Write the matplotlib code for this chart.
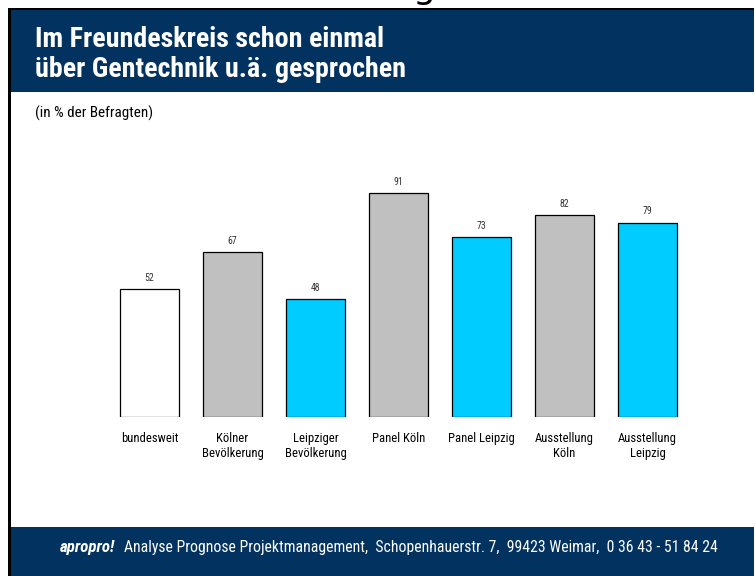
import matplotlib
matplotlib.use("Agg")
import matplotlib.pyplot as plt
from matplotlib.patches import Rectangle

categories = ["bundesweit", "Kölner\nBevölkerung", "Leipziger\nBevölkerung", "Panel Köln",
              "Panel Leipzig", "Ausstellung\nKöln", "Ausstellung\nLeipzig"]
values = [52, 67, 48, 91, 73, 82, 79]
bar_colors = ["#FFFFFF", "#C0C0C0", "#00CCFF", "#C0C0C0", "#00CCFF", "#C0C0C0", "#00CCFF"]

title_lines = ["Im Freundeskreis schon einmal", "über Gentechnik u.ä. gesprochen"]
subtitle = "(in % der Befragten)"
footer_brand = "apropro!"
footer_text = "Analyse Prognose Projektmanagement,  Schopenhauerstr. 7,  99423 Weimar,  0 36 43 - 51 84 24"

NAVY = "#02325F"
TITLE_FONT = ["Roboto Condensed", "DejaVu Sans"]
BODY_FONT = ["Roboto Condensed", "DejaVu Sans"]

W, H = 755, 576
fig = plt.figure(figsize=(W / 100, H / 100), dpi=100)
fig.patch.set_facecolor("white")
renderer = fig.canvas.get_renderer()


def fx(px):
    return px / W


def fy(py):
    return 1 - py / H


def fit(t, target_px):
    w = t.get_window_extent(renderer).width
    t.set_fontsize(t.get_fontsize() * target_px / w)
    return t


# header band
fig.patches.append(Rectangle((fx(10), fy(92)), fx(754) - fx(10), fy(10) - fy(92),
                             transform=fig.transFigure, facecolor=NAVY, edgecolor="none", zorder=1))
# footer band
fig.patches.append(Rectangle((fx(10), fy(576)), fx(754) - fx(10), fy(527) - fy(576),
                             transform=fig.transFigure, facecolor=NAVY, edgecolor="none", zorder=1))
# black border lines (top and left)
fig.patches.append(Rectangle((fx(8), fy(10)), fx(754) - fx(8), fy(8) - fy(10),
                             transform=fig.transFigure, facecolor="black", edgecolor="none", zorder=2))
fig.patches.append(Rectangle((fx(8), fy(576)), fx(10.5) - fx(8), fy(8) - fy(576),
                             transform=fig.transFigure, facecolor="black", edgecolor="none", zorder=2))

# cropped glyph at very top (part of text above the page)
fig.text(fx(413), fy(-2), "g", fontsize=26, color="black", ha="left", va="baseline",
         family="DejaVu Sans")

# title: fit "über Gentechnik u.ä." to 233 px
probe = fig.text(0, 0, "über Gentechnik u.ä.", fontsize=18, fontweight="bold", family=TITLE_FONT)
fit(probe, 233)
tsize = probe.get_fontsize()
probe.remove()
fig.text(fx(35), fy(47), title_lines[0], color="white", fontsize=tsize, fontweight="bold",
         family=TITLE_FONT, ha="left", va="baseline")
fig.text(fx(35), fy(77), title_lines[1], color="white", fontsize=tsize, fontweight="bold",
         family=TITLE_FONT, ha="left", va="baseline")

st = fig.text(fx(35), fy(118), subtitle, color="black", fontsize=8, family=BODY_FONT,
              ha="left", va="baseline")
fit(st, 118)

# label size: fit "bundesweit" to 57 px
probe = fig.text(0, 0, categories[0], fontsize=8, family=BODY_FONT)
fit(probe, 57)
lsize = probe.get_fontsize()
probe.remove()

# axes: x from 108 to 689 px, y=0 at 417 px, 100 units -> 246 px
ax = fig.add_axes([fx(108), fy(417), fx(689) - fx(108), 246 / H])
x = list(range(len(values)))
ax.bar(x, values, width=0.71, color=bar_colors, edgecolor="black", linewidth=0.9)
ax.set_xlim(-0.5, len(values) - 0.5)
ax.set_ylim(0, 100)
ax.axis("off")
for xi, v in zip(x, values):
    ax.annotate(str(v), (xi, v), xytext=(0, 4.5), textcoords="offset points",
                ha="center", va="bottom", fontsize=7, family=BODY_FONT, color="#333333")
for xi, lab in zip(x, categories):
    ax.annotate(lab, (xi, 0), xytext=(0, -10.5), textcoords="offset points",
                ha="center", va="top", fontsize=lsize, family=BODY_FONT, color="black",
                linespacing=1.2)

t1 = fig.text(fx(60), fy(552), footer_brand, color="white", fontsize=9, fontweight="bold",
              fontstyle="italic", family=BODY_FONT, ha="left", va="baseline")
fit(t1, 55)
t2 = fig.text(fx(124), fy(552), footer_text, color="white", fontsize=9,
              family=BODY_FONT, ha="left", va="baseline")
fit(t2, 594)

fig.savefig("out.png", dpi=100)
